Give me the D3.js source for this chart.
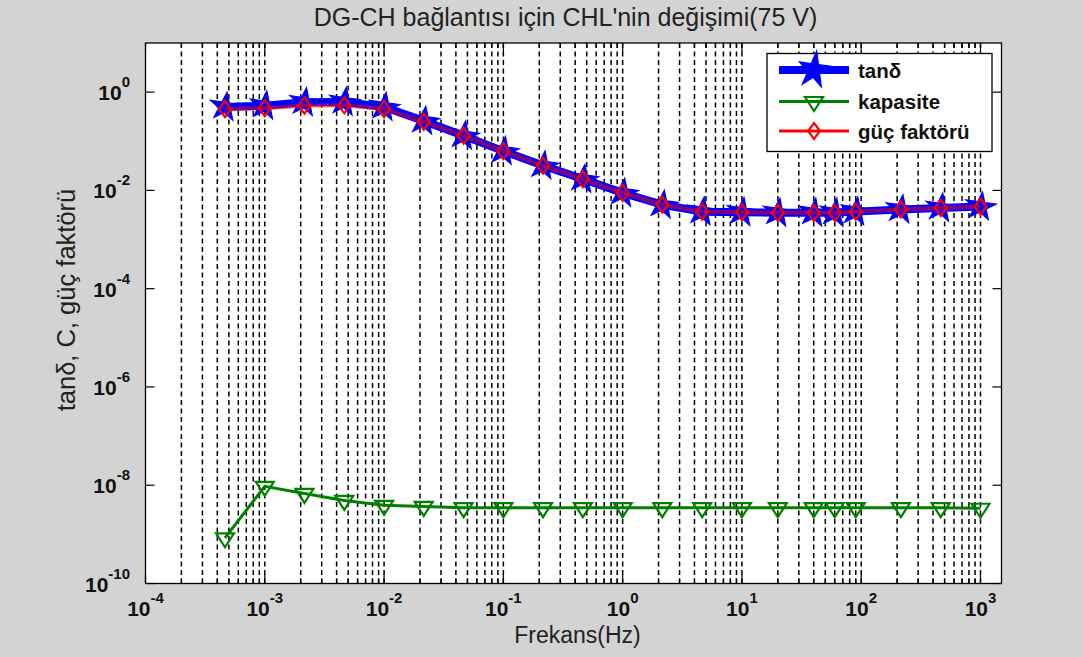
<!DOCTYPE html>
<html>
<head>
<meta charset="utf-8">
<script src="https://cdn.jsdelivr.net/npm/d3@7"></script>
<style>
  html, body { margin: 0; padding: 0; background: #d3d3d3; }
  svg { display: block; }
  text { font-family: "Liberation Sans", Arial, sans-serif; }
</style>
</head>
<body>
<svg id="chart" width="1083" height="657"></svg>
<script>
// ---- data ----
const freqHz = [4.64e-4, 1e-3, 2.15e-3, 4.64e-3, 1e-2, 2.15e-2, 4.64e-2, 0.1, 0.215, 0.464, 1, 2.15, 4.64, 10, 20, 40, 60, 90, 215, 464, 1000];
const tanDelta = [0.50, 0.53, 0.62, 0.63, 0.50, 0.26, 0.13, 0.063, 0.032, 0.017, 0.0089, 0.0051, 0.0037, 0.0036, 0.0035, 0.0035, 0.0035, 0.0037, 0.0041, 0.0044, 0.0047];
const kapasite = [8.5e-10, 9.5e-9, 6.8e-9, 4.9e-9, 3.9e-9, 3.7e-9, 3.5e-9, 3.5e-9, 3.5e-9, 3.5e-9, 3.5e-9, 3.5e-9, 3.5e-9, 3.5e-9, 3.5e-9, 3.5e-9, 3.5e-9, 3.5e-9, 3.5e-9, 3.5e-9, 3.4e-9];
const gucFaktoru = [0.45, 0.47, 0.53, 0.54, 0.45, 0.25, 0.13, 0.063, 0.032, 0.017, 0.0089, 0.0051, 0.0037, 0.0036, 0.0035, 0.0035, 0.0035, 0.0037, 0.0041, 0.0044, 0.0047];
const xTickExp = [-4, -3, -2, -1, 0, 1, 2, 3];
const yTickExp = [0, -2, -4, -6, -8, -10];
const seriesNames = ["tanδ", "kapasite", "güç faktörü"];
const titleText = "DG-CH bağlantısı için CHL'nin değişimi(75 V)";
const xLabelText = "Frekans(Hz)";
const yLabelText = "tanδ, C, güç faktörü";

// ---- layout ----
const L = 145.5, R = 1001.5, T = 43, B = 583.5;
const svg = d3.select("#chart");
const x = d3.scaleLog().domain([1e-4, 1500]).range([L, R]);
const y = d3.scaleLog().domain([1e-10, 10]).range([B, T]);

svg.append("rect").attr("x", 0).attr("y", 0).attr("width", 1083).attr("height", 657).attr("fill", "#d3d3d3");
svg.append("rect").attr("x", L).attr("y", T).attr("width", R - L).attr("height", B - T).attr("fill", "#ffffff");

// grid values: major + minor along x
const gridVals = [];
for (let e = -4; e <= 3; e++) {
  for (let m = 1; m <= 9; m++) {
    const v = m * Math.pow(10, e);
    if (v > 1e-4 * 1.0001 && v <= 1500) gridVals.push({v, major: m === 1});
  }
}
const grid = svg.append("g");
grid.selectAll("line").data(gridVals).join("line")
  .attr("x1", d => x(d.v)).attr("x2", d => x(d.v))
  .attr("y1", T).attr("y2", B)
  .attr("stroke", "#000").attr("stroke-width", 1.5)
  .attr("stroke-dasharray", "5,3.5");

// ticks x (bottom and top, inward)
const allX = [{v: 1e-4, major: true}].concat(gridVals);
const tk = svg.append("g").attr("stroke", "#000").attr("stroke-width", 1.2);
allX.forEach(d => {
  const len = d.major ? 9 : 5;
  tk.append("line").attr("x1", x(d.v)).attr("x2", x(d.v)).attr("y1", B).attr("y2", B - len);
  tk.append("line").attr("x1", x(d.v)).attr("x2", x(d.v)).attr("y1", T).attr("y2", T + len);
});
yTickExp.forEach(e => {
  const yy = y(Math.pow(10, e));
  tk.append("line").attr("x1", L).attr("x2", L + 9).attr("y1", yy).attr("y2", yy);
  tk.append("line").attr("x1", R).attr("x2", R - 9).attr("y1", yy).attr("y2", yy);
});

// axes box
svg.append("rect").attr("x", L).attr("y", T).attr("width", R - L).attr("height", B - T)
  .attr("fill", "none").attr("stroke", "#000").attr("stroke-width", 1.3);

// tick labels
const xl = svg.append("g");
xTickExp.forEach(e => {
  const t = xl.append("text").attr("x", x(Math.pow(10, e))).attr("y", 616)
    .attr("text-anchor", "middle").attr("font-weight", "bold").attr("font-size", 21).attr("fill", "#111");
  t.append("tspan").text("10");
  t.append("tspan").attr("dy", -13).attr("font-size", 15).text(String(e));
});
const yl = svg.append("g");
yTickExp.forEach(e => {
  const t = yl.append("text").attr("x", 130).attr("y", y(Math.pow(10, e)) + 8)
    .attr("text-anchor", "end").attr("font-weight", "bold").attr("font-size", 21).attr("fill", "#111");
  t.append("tspan").text("10");
  t.append("tspan").attr("dy", -13).attr("font-size", 15).text(String(e));
});

// titles
svg.append("text").attr("x", (L + R) / 2 - 8).attr("y", 26).attr("text-anchor", "middle")
  .attr("font-size", 25).attr("fill", "#222").text(titleText);
svg.append("text").attr("x", (L + R) / 2 + 4).attr("y", 643).attr("text-anchor", "middle")
  .attr("font-size", 23).attr("fill", "#222").text(xLabelText);
svg.append("text").attr("transform", "translate(75,300) rotate(-90)").attr("text-anchor", "middle")
  .attr("font-size", 25.5).attr("fill", "#222").text(yLabelText);

// clip
svg.append("clipPath").attr("id", "clip").append("rect").attr("x", L).attr("y", T).attr("width", R - L).attr("height", B - T);
const plot = svg.append("g").attr("clip-path", "url(#clip)");

const starPath = d3.symbol(d3.symbolStar).size(250)();
const diamondPath = "M0,-8L6,0L0,8L-6,0Z";
const triPath = "M-9,-4.5L9,-4.5L0,9.5Z";

function mkLine(vals) {
  return d3.line().x((d, i) => x(freqHz[i])).y(d => y(d))(vals);
}

// tanδ (blue)
plot.append("path").attr("d", mkLine(tanDelta)).attr("fill", "none")
  .attr("stroke", "#0000ff").attr("stroke-width", 8).attr("stroke-linejoin", "round");
plot.append("g").selectAll("path").data(tanDelta).join("path")
  .attr("d", starPath)
  .attr("transform", (d, i) => `translate(${x(freqHz[i])},${y(d)}) rotate(8) scale(1.1,1)`)
  .attr("fill", "#0000ff").attr("stroke", "#0000ff").attr("stroke-width", 1);

// kapasite (green)
plot.append("path").attr("d", mkLine(kapasite)).attr("fill", "none")
  .attr("stroke", "#008000").attr("stroke-width", 3);
plot.append("g").selectAll("path").data(kapasite).join("path")
  .attr("d", triPath)
  .attr("transform", (d, i) => `translate(${x(freqHz[i])},${y(d)})`)
  .attr("fill", "none").attr("stroke", "#008000").attr("stroke-width", 2.2);

// güç faktörü (red)
plot.append("path").attr("d", mkLine(gucFaktoru)).attr("fill", "none")
  .attr("stroke", "#ff0000").attr("stroke-opacity", 0.5).attr("stroke-width", 4);
plot.append("g").selectAll("path").data(gucFaktoru).join("path")
  .attr("d", diamondPath)
  .attr("transform", (d, i) => `translate(${x(freqHz[i])},${y(d)})`)
  .attr("fill", "none").attr("stroke", "#ff0000").attr("stroke-width", 2.2);

// legend
const lg = svg.append("g");
lg.append("rect").attr("x", 767).attr("y", 53.5).attr("width", 225).attr("height", 98)
  .attr("fill", "#fff").attr("stroke", "#000").attr("stroke-width", 1.3);
const ly = [70, 101.5, 131];
const lx1 = 779, lx2 = 849, lmx = 814;
// tanδ
lg.append("line").attr("x1", lx1).attr("x2", lx2).attr("y1", ly[0]).attr("y2", ly[0]).attr("stroke", "#0000ff").attr("stroke-width", 8);
lg.append("path").attr("d", starPath).attr("transform", `translate(${lmx},${ly[0]}) rotate(8) scale(1.1,1.3)`).attr("fill", "#0000ff").attr("stroke", "#0000ff");
// kapasite
lg.append("line").attr("x1", lx1).attr("x2", lx2).attr("y1", ly[1]).attr("y2", ly[1]).attr("stroke", "#008000").attr("stroke-width", 3);
lg.append("path").attr("d", triPath).attr("transform", `translate(${lmx},${ly[1]})`).attr("fill", "none").attr("stroke", "#008000").attr("stroke-width", 2.2);
// güç faktörü
lg.append("line").attr("x1", lx1).attr("x2", lx2).attr("y1", ly[2]).attr("y2", ly[2]).attr("stroke", "#ff0000").attr("stroke-width", 3);
lg.append("path").attr("d", diamondPath).attr("transform", `translate(${lmx},${ly[2]})`).attr("fill", "none").attr("stroke", "#ff0000").attr("stroke-width", 2.2);
seriesNames.forEach((n, i) => {
  lg.append("text").attr("x", 858).attr("y", ly[i] + 7.5).attr("font-weight", "bold").attr("font-size", 20.5).attr("fill", "#111").text(n);
});
</script>
</body>
</html>
